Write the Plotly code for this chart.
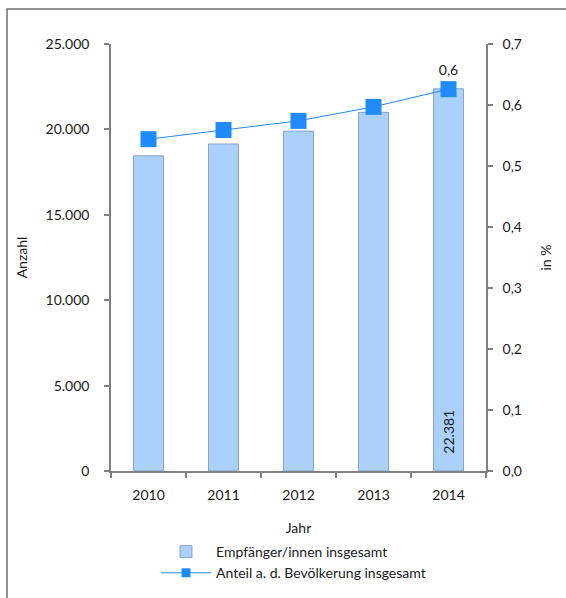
import plotly.graph_objects as go

years = ["2010", "2011", "2012", "2013", "2014"]
empfaenger = [18450, 19150, 19900, 21000, 22381]
anteil = [0.544, 0.559, 0.574, 0.597, 0.626]
bar_labels = ["", "", "", "", "\u00a0\u00a0\u00a0\u00a022.381"]
line_labels = ["", "", "", "", "0,6"]

FONT = "Lato"
GRAY = "#808080"
BLUE = "#1f8bff"
LINE_NAME = "Anteil a. d. Bevölkerung insgesamt"

fig = go.Figure()
fig.add_trace(go.Bar(
    x=years, y=empfaenger, name="Empfänger/innen insgesamt",
    marker=dict(color="#a9d1fb", line=dict(color="#7d93b5", width=0.8)),
    text=bar_labels, textposition="inside", insidetextanchor="start",
    textangle=-90, textfont=dict(family=FONT, size=14, color="#1a1a1a"),
    cliponaxis=False,
))
fig.add_trace(go.Scatter(
    x=years, y=anteil, name=LINE_NAME, yaxis="y2", showlegend=False,
    mode="lines+markers+text", text=line_labels, textposition="top center",
    textfont=dict(family=FONT, size=14, color="#1a1a1a"),
    line=dict(color=BLUE, width=1),
    marker=dict(symbol="square", size=16, color=BLUE),
    cliponaxis=False,
))
# legend entry for the line series (smaller marker, as in the original legend)
fig.add_trace(go.Scatter(
    x=[None], y=[None], name=LINE_NAME, yaxis="y2", mode="lines+markers",
    line=dict(color=BLUE, width=1),
    marker=dict(symbol="square", size=9, color=BLUE),
))

W, H = 566, 598
# plot area in page pixels: x 111..486, y 44..471
L, T = 111, 44
pw, ph = 486 - 111, 471 - 44
R = W - L - pw
B = H - T - ph

def px(x):
    return (x - L) / pw

def py(y):
    return (T + ph - y) / ph

fig.update_layout(
    width=W, height=H,
    margin=dict(l=L, r=R, t=T, b=B, autoexpand=False),
    paper_bgcolor="white", plot_bgcolor="white",
    font=dict(family=FONT, size=14, color="#1a1a1a"),
    separators=",.",
    bargap=0.6,
    showlegend=True,
    legend=dict(x=px(156), xanchor="left", y=py(536), yanchor="top",
                font=dict(family=FONT, size=14), itemwidth=50,
                tracegroupgap=0, bgcolor="rgba(0,0,0,0)"),
    xaxis=dict(
        type="category", showline=True, linecolor=GRAY, linewidth=1.5,
        ticks="outside", tickson="boundaries", ticklen=5, tickcolor=GRAY,
        tickwidth=1.5, showgrid=False, zeroline=False, automargin=False,
        title=dict(text="Jahr", standoff=22, font=dict(size=14)),
        tickfont=dict(size=14), ticklabelstandoff=10,
    ),
    yaxis=dict(
        range=[0, 25000], dtick=5000, tickformat=",d",
        showline=True, linecolor=GRAY, linewidth=1.5,
        ticks="outside", ticklen=5, tickcolor=GRAY, tickwidth=1.5,
        showgrid=False, zeroline=False, automargin=False,
        title=dict(text="Anzahl", standoff=15, font=dict(size=14)),
        ticklabelstandoff=12,
    ),
    yaxis2=dict(
        overlaying="y", side="right", range=[0, 0.7], dtick=0.1,
        tickformat=".1f", showline=True, linecolor=GRAY, linewidth=1.5,
        ticks="outside", ticklen=5, tickcolor=GRAY, tickwidth=1.5,
        showgrid=False, zeroline=False, automargin=False,
        title=dict(text="in %", standoff=20, font=dict(size=14)),
        ticklabelstandoff=7,
    ),
    shapes=[
        dict(type="rect", xref="paper", yref="paper",
             x0=px(7), x1=px(W + 30), y0=py(9), y1=py(H + 30),
             line=dict(color="#6e6e6e", width=1.5), layer="below"),
    ],
)

fig.write_html(
    "out.html",
    config={"displayModeBar": False},
    post_script=(
        "document.documentElement.style.overflow='hidden';"
        "document.body.style.margin='0';document.body.style.overflow='hidden';"
    ),
)
